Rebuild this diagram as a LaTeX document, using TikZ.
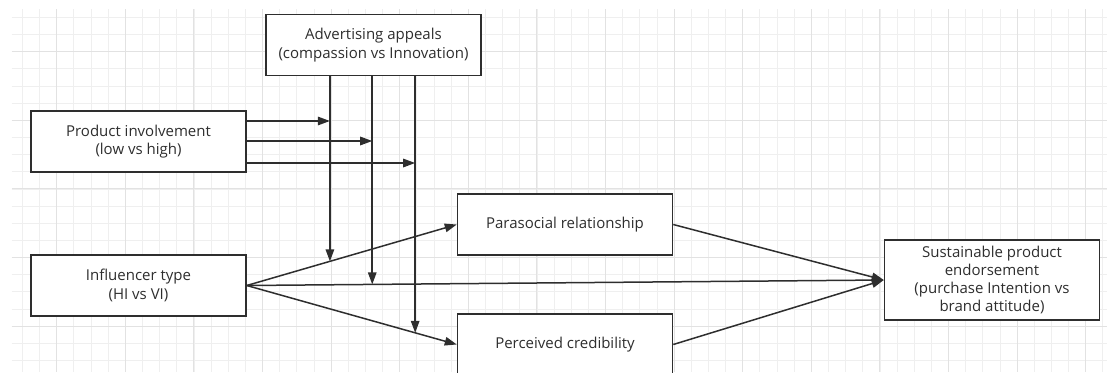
\documentclass[tikz,border=0pt]{standalone}
\usepackage{fontspec}
\setmainfont{Open Sans}
\usetikzlibrary{calc}
\usetikzlibrary{arrows.meta}
\definecolor{ink}{HTML}{2E2E2E}
\definecolor{gridminor}{HTML}{EFEFEF}
\definecolor{gridmajor}{HTML}{E2E2E2}

\begin{document}
\begin{tikzpicture}[x=1pt, y=-1pt,
		b/.style = {rectangle, draw=ink, fill=white, text=ink, line width=1.5pt, minimum width=215pt, minimum height=61pt, align=center, inner sep=2pt, font=\fontsize{15}{18.3}\selectfont},
		r/.style = {-{Triangle[length=12pt, width=8.5pt]}, draw=ink, line width=1.5pt},
		g/.style = {draw=gridminor, line width=0.8pt},
		gm/.style = {draw=gridmajor, line width=1pt}
		]
	\useasboundingbox (0, 0) rectangle (1107, 372);
	\clip (0, 0) rectangle (1107, 372);
	
	%Grid
	\foreach \k in {-2,...,61}
		\draw[g]	({56.7+17.15*\k}, 9.3) -- ({56.7+17.15*\k}, 372);
	\foreach \k in {-2,...,18}
		\draw[g]	(11.7, {51.7+17.15*\k}) -- (1107, {51.7+17.15*\k});
	\foreach \k in {0,...,15}
		\draw[gm]	({56.7+68.6*\k}, 9.3) -- ({56.7+68.6*\k}, 372);
	\foreach \k in {0,...,4}
		\draw[gm]	(11.7, {51.7+68.6*\k}) -- (1107, {51.7+68.6*\k});
	
	%Nodes
	\node[b]	(ad)	at	(373.5, 45)		{Advertising appeals\\(compassion vs Innovation)};
	\node[b]	(prod)	at	(138.5, 141.5)	{Product involvement\\(low vs high)};
	\node[b]	(inf)	at	(138.5, 285.5)	{Influencer type\\(HI vs VI)};
	\node[b]	(para)	at	(565, 224.5)	{Parasocial relationship};
	\node[b]	(cred)	at	(565, 344.5)	{Perceived credibility};
	\node[b, minimum height=80pt]	(sus)	at	(992, 280)	{Sustainable product\\endorsement\\(purchase Intention vs\\brand attitude)};
	
	%Moderation points
	\coordinate	(m1)	at	($(inf.east)!0.396!(para.west)$);
	\coordinate	(m2)	at	($(inf.east)!0.197!(sus.west)$);
	\coordinate	(m3)	at	($(inf.east)!0.802!(cred.west)$);
	\coordinate	(p1)	at	([yshift=20.5pt]prod.east);
	\coordinate	(p2)	at	([yshift=0.5pt]prod.east);
	\coordinate	(p3)	at	([yshift=-21.5pt]prod.east);
	
	%Lines
	\draw[r]	(inf.east)	--	(para.west);
	\draw[r]	(inf.east)	--	(sus.west);
	\draw[r]	(inf.east)	--	(cred.west);
	\draw[r]	(para.east)	--	(sus.west);
	\draw[r]	(cred.east)	--	(sus.west);
	\draw[r]	(ad.south -| m1)	--	(m1);
	\draw[r]	(ad.south -| m2)	--	(m2);
	\draw[r]	(ad.south -| m3)	--	(m3);
	\draw[r]	(p1)	--	(p1 -| m1);
	\draw[r]	(p2)	--	(p2 -| m2);
	\draw[r]	(p3)	--	(p3 -| m3);
\end{tikzpicture}
\end{document}
